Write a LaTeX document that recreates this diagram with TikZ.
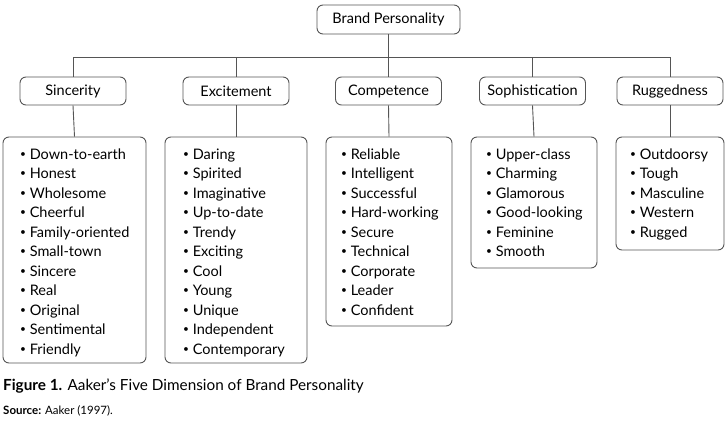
\documentclass[tikz,border=0pt]{standalone}
\usepackage{fontspec}
\setmainfont{Lato}
\definecolor{linegray}{HTML}{555555}
\newcommand\bul{\raisebox{0.12em}{\scalebox{0.7}{•}}\ }
\begin{document}
\begin{tikzpicture}[x=1pt,y=-1pt,
  box/.style={draw=linegray, line width=0.9pt, rounded corners=6pt, inner sep=0pt},
  cat/.style={box, minimum width=106pt, minimum height=28pt, font=\fontsize{14.5}{18}\selectfont},
  items/.style={anchor=base west, align=left, inner sep=0pt, font=\fontsize{14.5}{19.5}\selectfont},
  conn/.style={draw=linegray, line width=0.9pt}
]
\useasboundingbox (0,0) rectangle (728,421);
% top
\node[box, minimum width=143pt, minimum height=29pt, font=\fontsize{14.5}{18}\selectfont] (bp) at (388.5,19.5) {Brand Personality};
\coordinate (hl) at (74,57);
\coordinate (hr) at (670,57);
% categories
\node[cat] (c1) at (73,91) {Sincerity};
\node[cat] (c2) at (236,91) {Excitement};
\node[cat] (c3) at (388.5,91) {Competence};
\node[cat] (c4) at (532.5,91) {Sophistication};
\node[cat] (c5) at (670,91) {Ruggedness};
% list boxes
\node[box, minimum width=143pt, minimum height=226pt] (l1) at (74.5,250) {};
\node[box, minimum width=142pt, minimum height=226pt] (l2) at (236,250) {};
\node[box, minimum width=126pt, minimum height=189pt] (l3) at (389,231.5) {};
\node[box, minimum width=126pt, minimum height=131pt] (l4) at (534,202.5) {};
\node[box, minimum width=108pt, minimum height=113pt] (l5) at (670,193.5) {};
% list texts (anchored at the baseline of the last line)
\node[items] (t1) at (20,354) {\bul Down-to-earth\\\bul Honest\\\bul Wholesome\\\bul Cheerful\\\bul Family-oriented\\\bul Small-town\\\bul Sincere\\\bul Real\\\bul Original\\\bul Sentimental\\\bul Friendly};
\node[items] (t2) at (183,354) {\bul Daring\\\bul Spirited\\\bul Imaginative\\\bul Up-to-date\\\bul Trendy\\\bul Exciting\\\bul Cool\\\bul Young\\\bul Unique\\\bul Independent\\\bul Contemporary};
\node[items] (t3) at (341,315) {\bul Reliable\\\bul Intelligent\\\bul Successful\\\bul Hard-working\\\bul Secure\\\bul Technical\\\bul Corporate\\\bul Leader\\\bul Confident};
\node[items] (t4) at (486,256.5) {\bul Upper-class\\\bul Charming\\\bul Glamorous\\\bul Good-looking\\\bul Feminine\\\bul Smooth};
\node[items] (t5) at (630,237) {\bul Outdoorsy\\\bul Tough\\\bul Masculine\\\bul Western\\\bul Rugged};
% connectors
\draw[conn] (bp.south) -- (bp.south |- hl);
\draw[conn] (hl) -- (hr);
\foreach \i in {1,...,5} {
  \draw[conn] (c\i.north |- hl) -- (c\i.north);
  \draw[conn] (c\i.south) -- (l\i.north);
}
% caption
\node[anchor=base west, inner sep=0pt, font=\fontsize{15.3}{18}\selectfont] (cap) at (3,390) {\textbf{Figure 1.} Aaker’s Five Dimension of Brand Personality};
\node[anchor=base west, inner sep=0pt, font=\fontsize{11.5}{14}\selectfont] (src) at (3,414) {\textbf{Source:} Aaker (1997).};
\end{tikzpicture}
\end{document}
